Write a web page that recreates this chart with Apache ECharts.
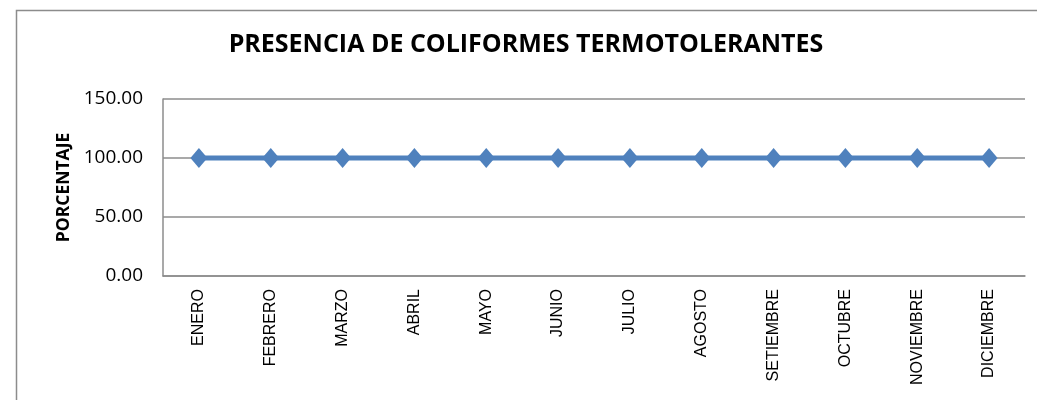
<!DOCTYPE html>
<html><head><meta charset="utf-8">
<script src="https://cdn.jsdelivr.net/npm/echarts@6/dist/echarts.min.js"></script>
<style>html,body{margin:0;padding:0;background:#fff}#c{width:1037px;height:400px}</style>
</head><body><div id="c"></div>
<script>
const categories = ['ENERO','FEBRERO','MARZO','ABRIL','MAYO','JUNIO','JULIO','AGOSTO','SETIEMBRE','OCTUBRE','NOVIEMBRE','DICIEMBRE'];
const values = [100,100,100,100,100,100,100,100,100,100,100,100];
const yTicks = {min:0, max:150, interval:50};
const chart = echarts.init(document.getElementById('c'));
chart.setOption({
  animation:false,
  title:{text:'PRESENCIA DE COLIFORMES TERMOTOLERANTES', left:521, top:27, textAlign:'center',
    textStyle:{fontFamily:'Open Sans', fontWeight:'bold', fontSize:25, color:'#000'}},
  graphic:[{type:'rect', shape:{x:16.5,y:10.5,width:1040,height:400}, style:{fill:'none',stroke:'#8c8c8c',lineWidth:1.5}}],
  grid:{left:163, right:12, top:99, bottom:124},
  xAxis:{type:'category', data:categories, boundaryGap:true,
    axisLine:{lineStyle:{color:'#8c8c8c',width:1.5}}, axisTick:{show:false},
    axisLabel:{rotate:90, margin:13, fontFamily:'Liberation Sans', fontSize:16, color:'#000', interval:0}},
  yAxis:{type:'value', min:yTicks.min, max:yTicks.max, interval:yTicks.interval,
    name:'PORCENTAJE', nameLocation:'middle', nameGap:86, nameRotate:90,
    nameTextStyle:{fontFamily:'Open Sans', fontWeight:'bold', fontSize:17.5, color:'#000'},
    axisLine:{show:true, lineStyle:{color:'#8c8c8c',width:1.5}}, axisTick:{show:false},
    splitLine:{lineStyle:{color:'#8c8c8c',width:1.5}},
    axisLabel:{formatter:v=>v.toFixed(2), margin:20, fontFamily:'Open Sans', fontSize:19, color:'#000'}},
  series:[{type:'line', data:values, symbol:'diamond', symbolSize:[17,20],
    lineStyle:{color:'#4F81BD', width:5}, itemStyle:{color:'#4F81BD'}}]
});
</script></body></html>
